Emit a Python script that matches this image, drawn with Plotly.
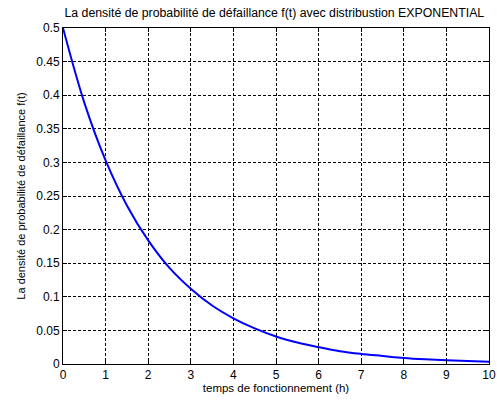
import plotly.graph_objects as go

# operating time (h) and failure probability density f(t)
t_hours = [0, 0.5, 1, 1.5, 2, 2.5, 3, 3.5, 4, 4.5, 5, 5.5, 6, 6.5, 7, 7.5, 8, 8.5, 9, 9.5, 10]
f_values = [0.5, 0.389, 0.303, 0.236, 0.184, 0.143, 0.112, 0.087, 0.068, 0.053, 0.041,
            0.032, 0.025, 0.019, 0.015, 0.012, 0.009, 0.007, 0.0055, 0.0043, 0.0034]

x_ticks = [0, 1, 2, 3, 4, 5, 6, 7, 8, 9, 10]
y_ticks = [0, 0.05, 0.1, 0.15, 0.2, 0.25, 0.3, 0.35, 0.4, 0.45, 0.5]

fig = go.Figure(go.Scatter(x=t_hours, y=f_values, mode="lines",
                           line=dict(color="#0000ff", width=2), line_shape="spline"))

axis_common = dict(
    showline=True, linecolor="black", linewidth=1, mirror="ticks",
    ticks="inside", ticklen=4, tickcolor="black",
    showgrid=True, gridcolor="black", griddash="3px,2px", gridwidth=1,
    zeroline=False, automargin=False, tickfont=dict(size=12, color="black"),
)

fig.update_layout(
    width=497, height=401,
    margin=dict(l=63, r=8, t=28, b=37, autoexpand=False),
    paper_bgcolor="white", plot_bgcolor="white",
    font=dict(family="Liberation Sans, Arial, sans-serif", color="black"),
    showlegend=False,
    title=dict(text="La densité de probabilité de défaillance f(t) avec distribustion EXPONENTIAL",
               x=0.552, xanchor="center", y=0.978, yanchor="top", font=dict(size=12.3)),
    xaxis=dict(range=[0, 10], tickvals=x_ticks, ticktext=[str(v) for v in x_ticks],
               title=dict(text="temps de fonctionnement (h)", font=dict(size=11.5), standoff=2),
               **axis_common),
    yaxis=dict(range=[0, 0.5], tickvals=y_ticks, ticktext=[f"{v:g}" for v in y_ticks],
               title=dict(text="La densité de probabilité de défaillance f(t)", font=dict(size=11), standoff=8),
               **axis_common),
)

fig.write_html("out.html")
